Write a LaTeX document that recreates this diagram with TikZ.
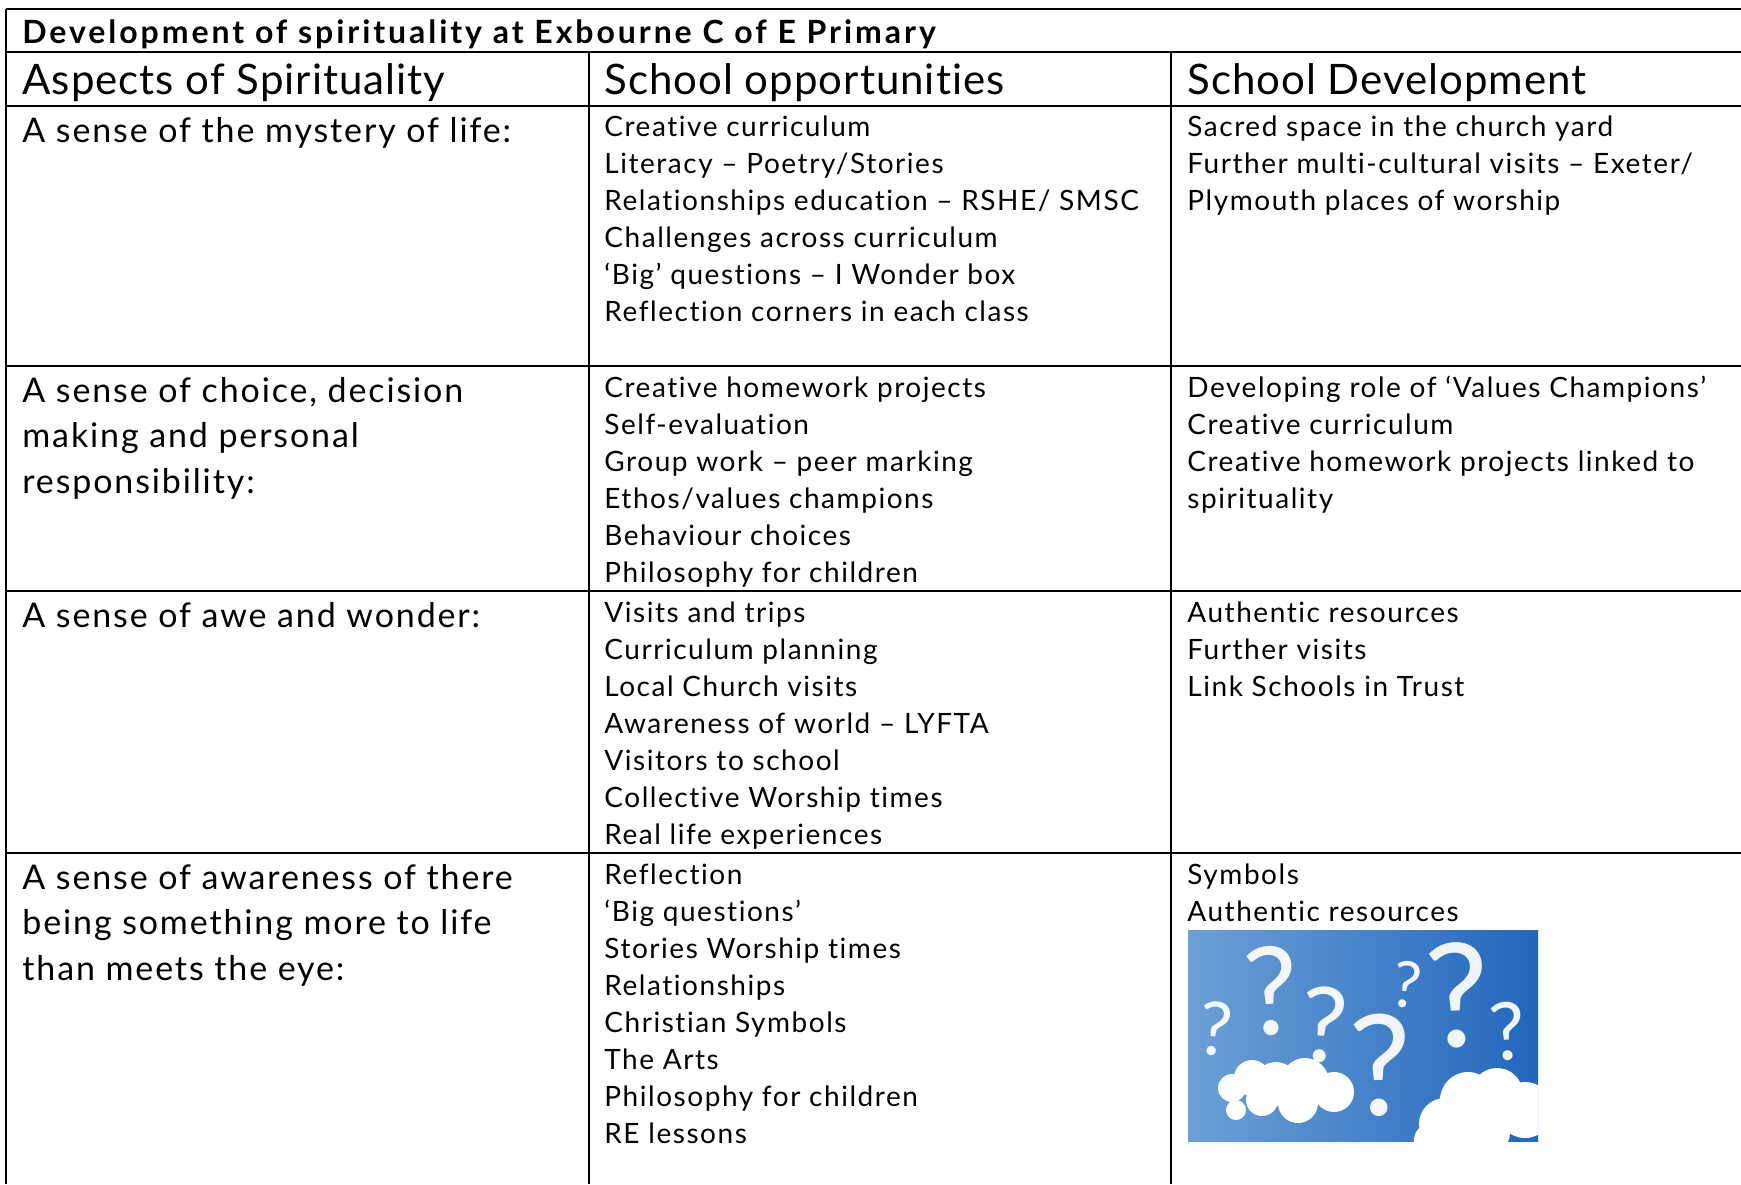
\documentclass[tikz,border=0pt]{standalone}
\usepackage{fontspec}
\setmainfont{Lato}[LetterSpace=5.5, Ligatures=CommonOff]
\newfontfamily\headfont{Lato}[LetterSpace=2.4, Ligatures=CommonOff]
\newfontfamily\titlefont{Lato}[LetterSpace=9.2, Ligatures=CommonOff]

\tikzset{
  rule/.style={black, line width=1pt},
  titletxt/.style={anchor=base west, inner sep=0pt, font=\titlefont\fontsize{16}{19}\selectfont\bfseries},
  headtxt/.style={anchor=base west, inner sep=0pt, font=\headfont\fontsize{21}{25}\selectfont},
  aspecttxt/.style={anchor=base west, inner sep=0pt, font=\fontsize{17}{20}\selectfont},
  itemtxt/.style={anchor=base west, inner sep=0pt, font=\fontsize{14}{17}\selectfont},
  qmark/.style={text=white, text opacity=0.93, inner sep=0pt},
  cloudblob/.style={fill=white},
}

\begin{document}
\begin{tikzpicture}[x=0.5pt,y=-0.5pt]
\useasboundingbox (0,0) rectangle (1741,1184);
\draw [rule] (6,9) -- (1741,9);
\draw [rule] (6,52) -- (1741,52);
\draw [rule] (6,106) -- (1741,106);
\draw [rule] (6,366) -- (1741,366);
\draw [rule] (6,591) -- (1741,591);
\draw [rule] (6,853) -- (1741,853);
\draw [rule] (6,9) -- (6,1184);
\draw [rule] (589,52) -- (589,1184);
\draw [rule] (1171,52) -- (1171,1184);
\node [titletxt] (title) at (22,43) {Development of spirituality at Exbourne C of E Primary};
\node [headtxt] (headA) at (22,94) {Aspects of Spirituality};
\node [headtxt] (headB) at (604,94) {School opportunities};
\node [headtxt] (headC) at (1187,94) {School Development};
\node [aspecttxt] (aspect1-0) at (22,142) {A sense of the mystery of life:};
\foreach \t [count=\i from 0] in {Creative curriculum, {Literacy – Poetry/Stories}, {Relationships education – RSHE/ SMSC}, Challenges across curriculum, ‘Big’ questions – I Wonder box, Reflection corners in each class}
  \node [itemtxt] (opp1-\i) at (604,{136+37*\i}) {\t};
\foreach \t [count=\i from 0] in {Sacred space in the church yard, {Further multi-cultural visits – Exeter/}, Plymouth places of worship}
  \node [itemtxt] (dev1-\i) at (1187,{136+37*\i}) {\t};
\foreach \t [count=\i from 0] in {{A sense of choice, decision}, making and personal, responsibility:}
  \node [aspecttxt] (aspect2-\i) at (22,{402+45.5*\i}) {\t};
\foreach \t [count=\i from 0] in {Creative homework projects, Self-evaluation, Group work – peer marking, {Ethos/values champions}, Behaviour choices, Philosophy for children}
  \node [itemtxt] (opp2-\i) at (604,{397+37*\i}) {\t};
\foreach \t [count=\i from 0] in {Developing role of ‘Values Champions’, Creative curriculum, Creative homework projects linked to, spirituality}
  \node [itemtxt] (dev2-\i) at (1187,{397+37*\i}) {\t};
\node [aspecttxt] (aspect3-0) at (22,627) {A sense of awe and wonder:};
\foreach \t [count=\i from 0] in {Visits and trips, Curriculum planning, Local Church visits, Awareness of world – LYFTA, Visitors to school, Collective Worship times, Real life experiences}
  \node [itemtxt] (opp3-\i) at (604,{622+37*\i}) {\t};
\foreach \t [count=\i from 0] in {Authentic resources, Further visits, Link Schools in Trust}
  \node [itemtxt] (dev3-\i) at (1187,{622+37*\i}) {\t};
\foreach \t [count=\i from 0] in {A sense of awareness of there, being something more to life, than meets the eye:}
  \node [aspecttxt] (aspect4-\i) at (22,{889+45.5*\i}) {\t};
\foreach \t [count=\i from 0] in {Reflection, ‘Big questions’, Stories Worship times, Relationships, Christian Symbols, The Arts, Philosophy for children, RE lessons}
  \node [itemtxt] (opp4-\i) at (604,{884+37*\i}) {\t};
\foreach \t [count=\i from 0] in {Symbols, Authentic resources}
  \node [itemtxt] (dev4-\i) at (1187,{884+37*\i}) {\t};
\begin{scope}
\clip (1188,930) rectangle (1538,1141);
\shade [left color={rgb,255:red,108;green,160;blue,214}, right color={rgb,255:red,34;green,102;blue,188}] (1188,930) rectangle (1538,1141);
\foreach \qx/\qy/\qs/\qa [count=\k] in {1216/1029/37/-6, 1272/991/61/4, 1324/1025/52/-4, 1381/1065/70/2, 1407/985/32/-8, 1458/995/72/3, 1508/1031/40/5}
  \node [qmark, rotate=\qa, font=\fontsize{\qs}{\qs}\selectfont] (q\k) at (\qx,\qy) {?};
\foreach \cx/\cy/\cr in {1232/1088/7, 1252/1078/9, 1276/1084/11, 1305/1082/12, 1334/1092/10, 1298/1103/10, 1262/1100/8, 1236/1110/5, 1445/1124/13, 1468/1100/14, 1497/1094/13, 1525/1110/14, 1484/1132/13, 1430/1140/8}
  \fill [cloudblob] (\cx,\cy) circle (\cr pt);
\end{scope}
\end{tikzpicture}
\end{document}
